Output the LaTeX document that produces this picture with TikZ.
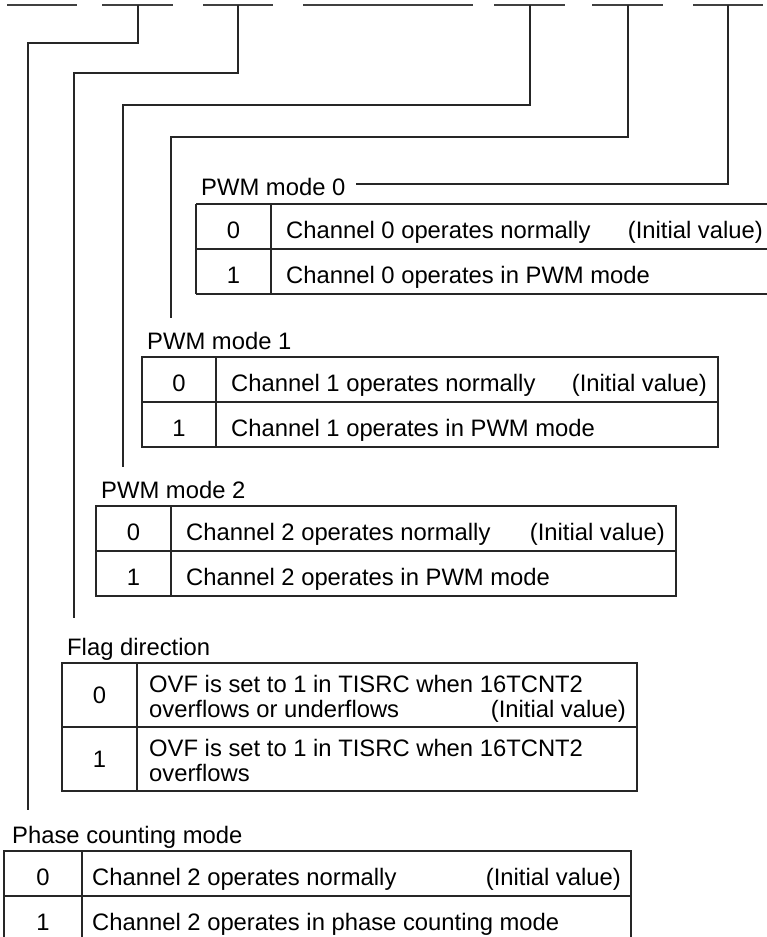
\documentclass[tikz,border=0pt]{standalone}
\usepackage{fontspec}
\setmainfont{Liberation Sans}
\begin{document}
\begin{tikzpicture}[x=1pt,y=-1pt,
  tline/.style={line width=1.2pt,black!85},
  barline/.style={line width=1.7pt,black!75},
  lead/.style={line width=1.3pt,black!85},
  lbl/.style={inner sep=0pt,anchor=base west,font=\fontsize{23.8}{28.5}\selectfont},
  rlbl/.style={inner sep=0pt,anchor=base east,font=\fontsize{23.8}{28.5}\selectfont},
  dig/.style={inner sep=0pt,anchor=base,font=\fontsize{23.8}{28.5}\selectfont}]
\useasboundingbox (0,0) rectangle (767,937);
\clip (0,0) rectangle (767,937);
\fill[white] (0,0) rectangle (767,937);

% ---- register bit bars ----
\coordinate (b1l) at (7,5);   \coordinate (b1r) at (77,5);
\coordinate (b2l) at (102,5); \coordinate (b2r) at (173,5);
\coordinate (b3l) at (203,5); \coordinate (b3r) at (273,5);
\coordinate (b4l) at (303,5); \coordinate (b4r) at (473,5);
\coordinate (b5l) at (494,5); \coordinate (b5r) at (565,5);
\coordinate (b6l) at (592,5); \coordinate (b6r) at (663,5);
\coordinate (b7l) at (693,5); \coordinate (b7r) at (763,5);
\foreach \i in {1,...,7} \draw[barline] (b\i l) -- (b\i r);

% ---- leaders ----
\coordinate (t2) at (138,5); \coordinate (k2) at (138,43); \coordinate (e2) at (28,810);
\coordinate (t3) at (238,5); \coordinate (k3) at (238,73); \coordinate (e3) at (74,618);
\coordinate (t5) at (530,5); \coordinate (k5) at (530,105); \coordinate (e5) at (123,467);
\coordinate (t6) at (628,5); \coordinate (k6) at (628,137); \coordinate (e6) at (171,318);
\coordinate (t7) at (728,5); \coordinate (e7) at (356,184);
\draw[lead] (t2) -- (k2) -| (e2);
\draw[lead] (t3) -- (k3) -| (e3);
\draw[lead] (t5) -- (k5) -| (e5);
\draw[lead] (t6) -- (k6) -| (e6);
\draw[lead] (t7) |- (e7);

% ---- PWM mode 0 ----
\node[lbl] (L0) at (201,195) {PWM mode 0};
\draw[tline] (196,204) -- (775,204) (196,249) -- (775,249) (196,294) -- (775,294)
  (196,204) -- (196,294) (271,204) -- (271,294);
\node[dig] (r00d) at (233.5,238) {0};
\node[lbl] (r00t) at (286,238) {Channel 0 operates normally};
\node[rlbl] (r00i) at (763,238) {(Initial value)};
\node[dig] (r01d) at (233.5,283) {1};
\node[lbl] (r01t) at (286,283) {Channel 0 operates in PWM mode};

% ---- PWM mode 1 ----
\node[lbl] (L1) at (147,349) {PWM mode 1};
\draw[tline] (142,357) rectangle (718,447) (142,402) -- (718,402) (216,357) -- (216,447);
\node[dig] (r10d) at (179,391) {0};
\node[lbl] (r10t) at (231,391) {Channel 1 operates normally};
\node[rlbl] (r10i) at (707,391) {(Initial value)};
\node[dig] (r11d) at (179,436) {1};
\node[lbl] (r11t) at (231,436) {Channel 1 operates in PWM mode};

% ---- PWM mode 2 ----
\node[lbl] (L2) at (101,498) {PWM mode 2};
\draw[tline] (96,506) rectangle (676,596) (96,551) -- (676,551) (171,506) -- (171,596);
\node[dig] (r20d) at (133.5,540) {0};
\node[lbl] (r20t) at (186,540) {Channel 2 operates normally};
\node[rlbl] (r20i) at (665,540) {(Initial value)};
\node[dig] (r21d) at (133.5,585) {1};
\node[lbl] (r21t) at (186,585) {Channel 2 operates in PWM mode};

% ---- Flag direction ----
\node[lbl] (LF) at (67,655) {Flag direction};
\draw[tline] (62,663) rectangle (637,791) (62,727) -- (637,727) (137,663) -- (137,791);
\node[dig] (rf0d) at (99.5,703) {0};
\node[lbl] (rf0a) at (149,692) {OVF is set to 1 in TISRC when 16TCNT2};
\node[lbl] (rf0b) at (149,717) {overflows or underflows};
\node[rlbl] (rf0i) at (626,717) {(Initial value)};
\node[dig] (rf1d) at (99.5,767) {1};
\node[lbl] (rf1a) at (149,756) {OVF is set to 1 in TISRC when 16TCNT2};
\node[lbl] (rf1b) at (149,781) {overflows};

% ---- Phase counting mode ----
\node[lbl] (LP) at (12,843) {Phase counting mode};
\draw[tline] (4,851) rectangle (631,941) (4,896) -- (631,896) (82,851) -- (82,941);
\node[dig] (rp0d) at (43,885) {0};
\node[lbl] (rp0t) at (92,885) {Channel 2 operates normally};
\node[rlbl] (rp0i) at (621,885) {(Initial value)};
\node[dig] (rp1d) at (43,930) {1};
\node[lbl] (rp1t) at (92,930) {Channel 2 operates in phase counting mode};
\end{tikzpicture}
\end{document}
